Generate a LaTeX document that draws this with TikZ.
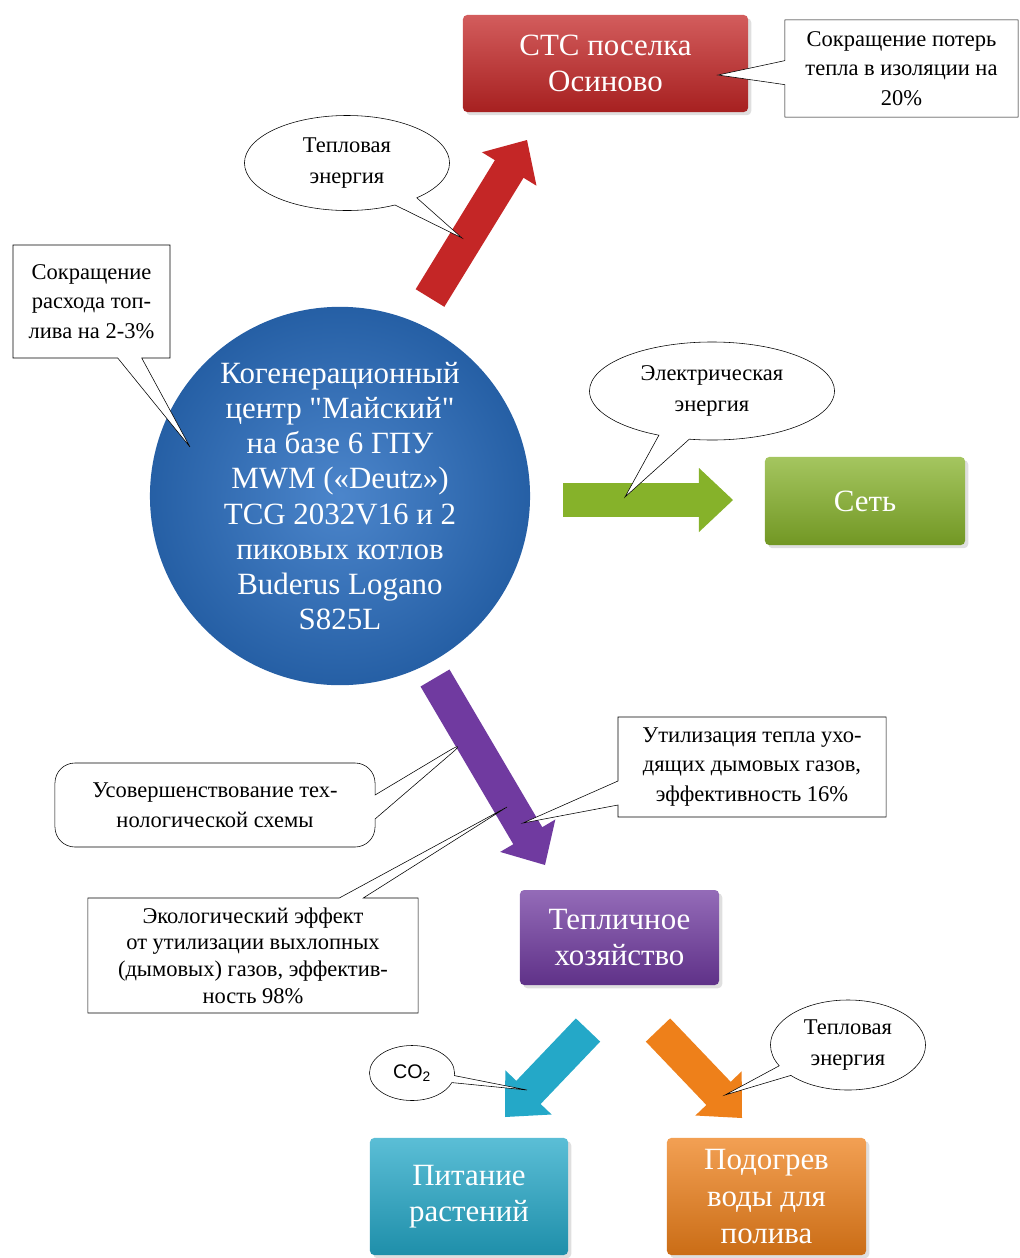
\documentclass[tikz,border=0pt]{standalone}
\usepackage{fontspec}
\setmainfont{Liberation Serif}[Ligatures=TeXOff]
\newfontfamily\cofont{Liberation Sans}
\usetikzlibrary{calc,shapes.geometric,shapes.callouts,shadows}

\definecolor{stcred}{RGB}{196,38,38}
\definecolor{netgreen}{RGB}{134,178,42}
\definecolor{hubblue}{RGB}{44,112,194}
\definecolor{farmpurple}{RGB}{112,58,160}
\definecolor{feedteal}{RGB}{36,168,200}
\definecolor{heatorange}{RGB}{238,128,26}

\tikzset{
  unitbox/.style={rectangle, rounded corners=3pt, text=white, align=center,
    font=\fontsize{22}{26}\selectfont, top color=#1!75!white, bottom color=#1!85!black,
    drop shadow={opacity=0.25}},
  notebox/.style={rectangle callout, draw, fill=white, align=center,
    font=\fontsize{16}{21}\selectfont, callout pointer width=0.6cm},
  bubblebox/.style={ellipse callout, draw, fill=white, align=center,
    font=\fontsize{16}{22}\selectfont, callout pointer width=0.55cm}
}

\newcommand{\flowarrow}[3]{%
  \coordinate (hb) at ($(#3)!0.85cm!(#2)$);
  \fill[#1] ($(#2)!0.42cm!90:(#3)$) -- ($(hb)!0.42cm!90:(#3)$) -- ($(hb)!0.8cm!90:(#3)$) -- (#3)
    -- ($(hb)!0.8cm!-90:(#3)$) -- ($(hb)!0.42cm!-90:(#3)$) -- ($(#2)!0.42cm!-90:(#3)$) -- cycle;}

\begin{document}
\begin{tikzpicture}[x=0.025cm,y=-0.025cm]
\useasboundingbox (0,0) rectangle (1020,1258);

\node[ellipse, minimum width=9.5cm, minimum height=9.15cm, inner sep=0pt,
  inner color=hubblue!85!white, outer color=hubblue!85!black, text=white, align=center,
  font=\fontsize{22}{25}\selectfont] (hub) at (340,496)
  {Когенерационный\\центр "Майский"\\на базе 6 ГПУ\\MWM («Deutz»)\\TCG 2032V16 и 2\\пиковых котлов\\Buderus Logano\\S825L};

\node[unitbox=stcred, minimum width=7.125cm, minimum height=2.425cm] (stc) at (605.5,63.5) {СТС поселка\\Осиново};
\node[unitbox=netgreen, minimum width=5cm, minimum height=2.2cm] (net) at (865,501) {Сеть};
\node[unitbox=farmpurple, minimum width=4.975cm, minimum height=2.375cm] (farm) at (619.5,937.5) {Тепличное\\хозяйство};
\node[unitbox=feedteal, minimum width=4.95cm, minimum height=2.925cm] (feed) at (469,1196.5) {Питание\\растений};
\node[unitbox=heatorange, minimum width=4.975cm, minimum height=2.925cm] (water) at (766.5,1196.5) {Подогрев\\воды для\\полива};

\coordinate (redtail) at (430,298);
\coordinate (redtip) at (527,140);
\coordinate (greentail) at (563,500);
\coordinate (greentip) at (733,500);
\coordinate (purpletail) at (435,678);
\coordinate (purpletip) at (545,865);
\coordinate (tealtail) at (588,1030);
\coordinate (tealtip) at (505,1117);
\coordinate (orangetail) at (658,1030);
\coordinate (orangetip) at (742,1118);

\flowarrow{stcred}{redtail}{redtip}
\flowarrow{netgreen}{greentail}{greentip}
\flowarrow{farmpurple}{purpletail}{purpletip}
\flowarrow{feedteal}{tealtail}{tealtip}
\flowarrow{heatorange}{orangetail}{orangetip}

\coordinate (tipA) at (718,75);
\coordinate (tipB) at (462,238);
\coordinate (tipC) at (190,447);
\coordinate (tipD) at (625,497);
\coordinate (tipE) at (467,740);
\coordinate (tipF) at (523,823);
\coordinate (tipG) at (507,807);
\coordinate (tipH) at (527,1090);
\coordinate (tipI) at (725,1095);

\node[notebox, minimum width=5.83cm, minimum height=2.43cm, callout absolute pointer={(tipA)}] (losses) at (901.5,68.5)
  {Сокращение потерь\\тепла в изоляции на\\20\%};
\node[bubblebox, minimum width=5.125cm, minimum height=2.375cm, callout absolute pointer={(tipB)}] (heattop) at (347,163)
  {Тепловая\\энергия};
\node[notebox, minimum width=3.925cm, minimum height=2.825cm, callout absolute pointer={(tipC)}] (fuel) at (91.5,301.5)
  {Сокращение\\расхода топ-\\лива на 2-3\%};
\node[bubblebox, minimum width=6.125cm, minimum height=2.45cm, callout absolute pointer={(tipD)}] (power) at (712,391)
  {Электрическая\\энергия};
\node[notebox, rounded corners=0.5cm, minimum width=8cm, minimum height=2.1cm, callout absolute pointer={(tipE)}] (scheme) at (215,805)
  {Усовершенствование тех-\\нологической схемы};
\node[notebox, minimum width=6.7cm, minimum height=2.5cm, callout absolute pointer={(tipF)}] (flue) at (752,767)
  {Утилизация тепла ухо-\\дящих дымовых газов,\\эффективность 16\%};
\node[notebox, minimum width=8.25cm, minimum height=2.875cm, font=\fontsize{16}{19}\selectfont, callout absolute pointer={(tipG)}] (eco) at (253,955.5)
  {Экологический эффект\\от утилизации выхлопных\\(дымовых) газов, эффектив-\\ность 98\%};
\node[bubblebox, minimum width=2.125cm, minimum height=1.375cm, font=\cofont\fontsize{14}{17}\selectfont, callout absolute pointer={(tipH)}] (co) at (412,1073)
  {CO\textsubscript{2}};
\node[bubblebox, minimum width=3.875cm, minimum height=2.25cm, callout absolute pointer={(tipI)}] (heatbottom) at (848,1045)
  {Тепловая\\энергия};
\end{tikzpicture}
\end{document}
